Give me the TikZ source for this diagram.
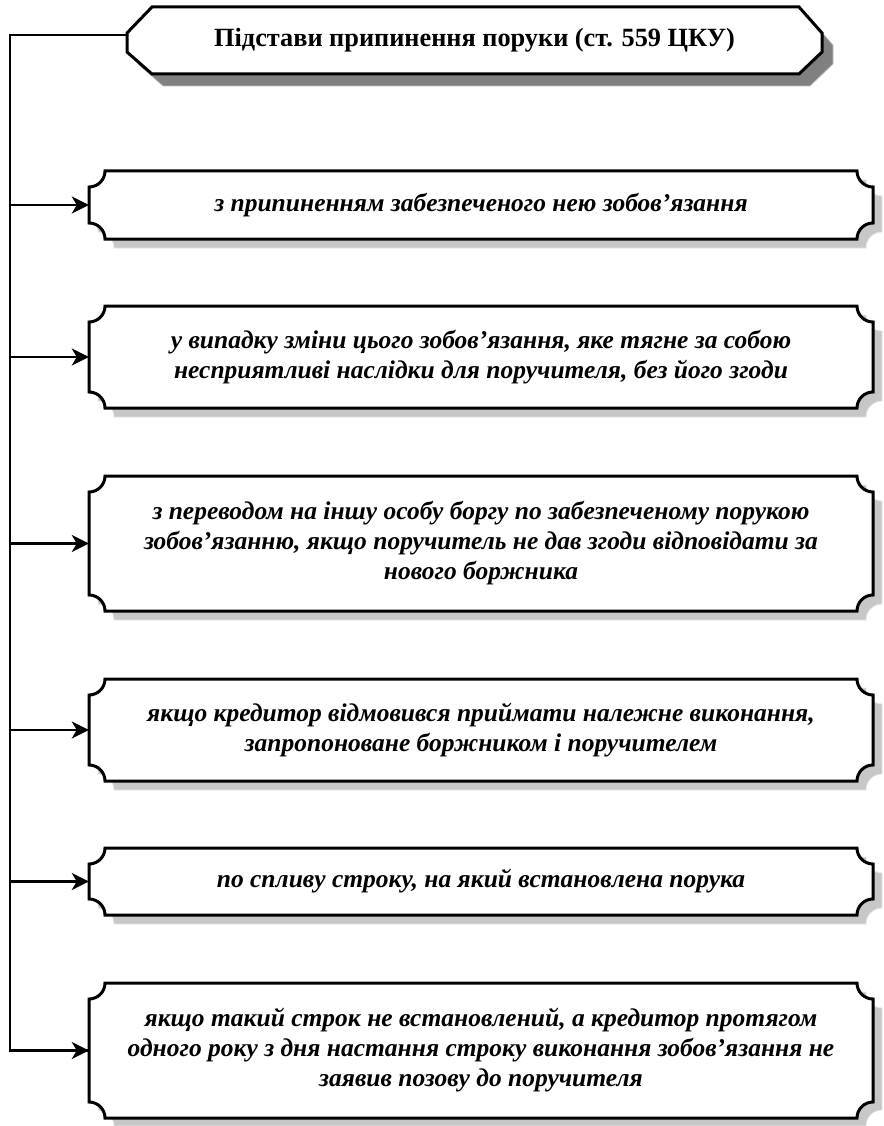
\documentclass[tikz,border=0pt]{standalone}
\usepackage{fontspec}
\setmainfont{Liberation Serif}
\usetikzlibrary{arrows.meta}
\newcommand{\plq}[5]{\draw[#1] (#2,#3-16) arc[start angle=-90,end angle=0,radius=16] -- (#4-16,#3) arc[start angle=180,end angle=270,radius=16] -- (#4,#5+16) arc[start angle=90,end angle=180,radius=16] -- (#2+16,#5) arc[start angle=0,end angle=90,radius=16] -- cycle;}
\newcommand{\ttl}[5]{\draw[#1] (#2+25,#3) -- (#4-23,#3) -- (#4,#3-26) -- (#4,#5+22) -- (#4-23,#5) -- (#2+25,#5) -- (#2,#5+22) -- (#2,#3-26) -- cycle;}
\tikzset{
  boxline/.style={line width=3pt, fill=white, line join=miter},
  boxshadow/.style={fill=black!22, draw=black!10, line width=0.8pt},
  ttlshadow/.style={fill=black!50, draw=black!25, line width=0.8pt},
  txt/.style={inner sep=0pt, minimum width=784pt, minimum height=60pt, align=center,
    font=\fontsize{25.5}{30}\selectfont\bfseries\itshape},
  conn/.style={line width=2.8pt},
  arr/.style={line width=2.8pt, -{Stealth[length=17pt,width=17pt,inset=5pt]}},
}
\begin{document}
\begin{tikzpicture}[x=1pt,y=1pt]
\useasboundingbox (0,0) rectangle (883,-1126);
% title
\ttl{ttlshadow}{138}{-19}{833}{-86}
\ttl{boxline}{127}{-7}{822}{-74}
\node[inner sep=0pt, minimum width=695pt, minimum height=67pt, font=\fontsize{26.3}{30}\selectfont\bfseries] (title) at (474.5,-40.5) {Підстави припинення поруки (ст. 559 ЦКУ)};
% boxes
\plq{boxshadow}{98}{-180}{882}{-248}
\plq{boxline}{89}{-171}{873}{-239}
\node[txt] (b1) at (481,-205) {з припиненням забезпеченого нею зобов’язання};
\plq{boxshadow}{98}{-315}{882}{-417}
\plq{boxline}{89}{-306}{873}{-408}
\node[txt] (b2) at (481,-357) {у випадку зміни цього зобов’язання, яке тягне за собою\\несприятливі наслідки для поручителя, без його згоди};
\plq{boxshadow}{98}{-485}{882}{-620}
\plq{boxline}{89}{-476}{873}{-611}
\node[txt] (b3) at (481,-543.5) {з переводом на іншу особу боргу по забезпеченому порукою\\зобов’язанню, якщо поручитель не дав згоди відповідати за\\нового боржника};
\plq{boxshadow}{98}{-688}{882}{-790}
\plq{boxline}{89}{-679}{873}{-781}
\node[txt] (b4) at (481,-730) {якщо кредитор відмовився приймати належне виконання,\\запропоноване боржником і поручителем};
\plq{boxshadow}{98}{-857}{882}{-924}
\plq{boxline}{89}{-848}{873}{-915}
\node[txt] (b5) at (481,-881.5) {по спливу строку, на який встановлена порука};
\plq{boxshadow}{98}{-992}{882}{-1126}
\plq{boxline}{89}{-983}{873}{-1118}
\node[txt] (b6) at (481,-1050.5) {якщо такий строк не встановлений, а кредитор протягом\\одного року з дня настання строку виконання зобов’язання не\\заявив позову до поручителя};
% connectors
\coordinate (spine) at (10,-35);
\draw[conn] (spine -| title.west) -- (spine) |- (b6.west);
\draw[arr] (spine |- b6.west) -- (b6.west);
\draw[arr] (spine |- b1.west) -- (b1.west);
\draw[arr] (spine |- b2.west) -- (b2.west);
\draw[arr] (spine |- b3.west) -- (b3.west);
\draw[arr] (spine |- b4.west) -- (b4.west);
\draw[arr] (spine |- b5.west) -- (b5.west);
\end{tikzpicture}
\end{document}
